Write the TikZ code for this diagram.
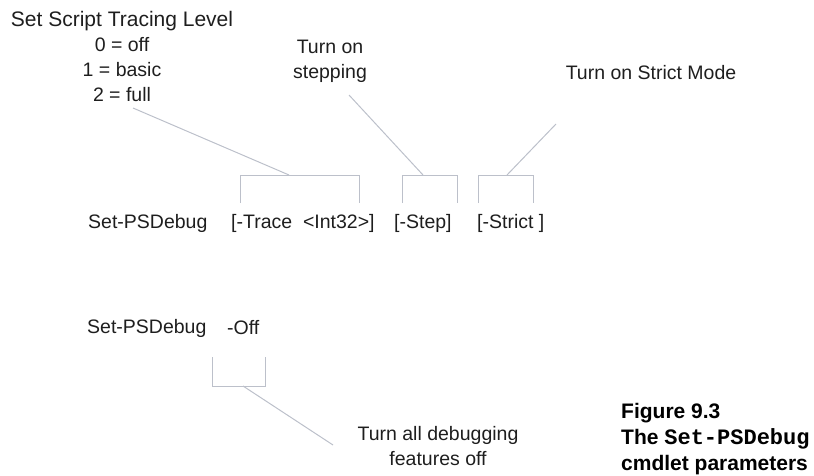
\documentclass[tikz,border=0pt]{standalone}
\usepackage{fontspec}
\setmainfont{Liberation Sans}
\setmonofont{Liberation Mono}
\usetikzlibrary{arrows}
\definecolor{gris}{RGB}{188,192,202}
\definecolor{encre}{RGB}{30,30,30}

\begin{document}
\begin{tikzpicture}[x=1pt,y=-1pt]
	\tikzstyle{texte}=[font=\fontsize{19.5}{25}\selectfont,text=encre,inner sep=0pt,align=center]
	\tikzstyle{legende}=[font=\fontsize{21}{26}\selectfont\bfseries,text=black,inner sep=0pt,align=left]
	\tikzstyle{trait}=[draw=gris,line width=1pt]
	\useasboundingbox (0,0) rectangle (814,476);
	% labels
	\node[texte] (niveau) at (122,56){{\fontsize{21}{25}\selectfont Set Script Tracing Level}\\0 = off\\1 = basic\\2 = full};
	\node[texte] (pas) at (330,61){Turn on\\stepping};
	\node[texte] (strict) at (651,73){Turn on Strict Mode};
	\node[texte] (arret) at (438,446){Turn all debugging\\features off};
	% syntax
	\node[texte,anchor=west] (cmd) at (88,223){Set-PSDebug};
	\node[texte,anchor=west] (trace) at (231,223){[-Trace\ \ <Int32>]};
	\node[texte,anchor=west] (step) at (394,223){[-Step]};
	\node[texte,anchor=west] (stricte) at (477,223){[-Strict\ ]};
	\node[texte,anchor=west] (cmdoff) at (87,328){Set-PSDebug};
	\node[texte,anchor=west] (off) at (227,328){-Off};
	% caption
	\node[legende,anchor=west] (fig) at (621,439){Figure 9.3\\The {\ttfamily\fontsize{22}{26}\selectfont Set-PSDebug}\\cmdlet parameters};
	% leader ends
	\coordinate (a1) at (133,108);
	\coordinate (a2) at (289,175);
	\coordinate (b1) at (349,95);
	\coordinate (b2) at (423,175);
	\coordinate (c1) at (556,124);
	\coordinate (c2) at (507,175);
	\coordinate (d1) at (243,386);
	\coordinate (d2) at (333,445);
	% brackets
	\draw[trait] (240,203) -- (240,175) -- (359,175) -- (359,203);
	\draw[trait] (402,203) -- (402,175) -- (457,175) -- (457,203);
	\draw[trait] (478,203) -- (478,175) -- (533,175) -- (533,203);
	\draw[trait] (212,357) -- (212,386) -- (265,386) -- (265,357);
	% leaders
	\draw[trait] (a1) -- (a2);
	\draw[trait] (b1) -- (b2);
	\draw[trait] (c1) -- (c2);
	\draw[trait] (d1) -- (d2);
\end{tikzpicture}
\end{document}
